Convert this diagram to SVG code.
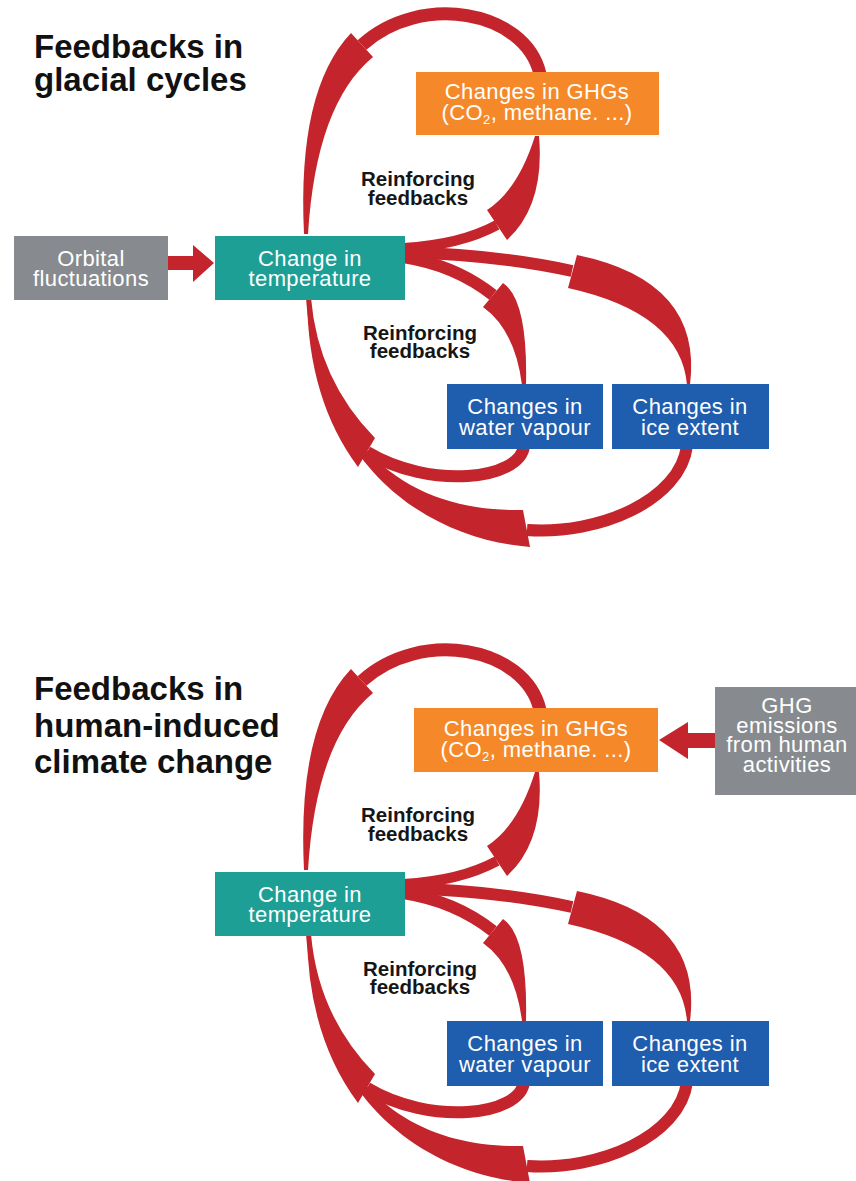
<svg xmlns="http://www.w3.org/2000/svg" width="856" height="1181" viewBox="0 0 856 1181">
  <style>
    .title { font-family: "Liberation Sans", Arial, sans-serif; font-weight: bold; font-size: 33px; fill: #111; }
    .lbl { font-family: "Liberation Sans", Arial, sans-serif; font-weight: bold; font-size: 20.5px; fill: #161616; text-anchor: middle; }
    .bt { font-family: "Liberation Sans", Arial, sans-serif; font-size: 22px; letter-spacing: 0.4px; fill: #ffffff; text-anchor: middle; }
    .sub { font-size: 13px; }
    .grey { fill: #878b8f; }
    .teal { fill: #1d9f96; }
    .orange { fill: #f5892a; }
    .blue { fill: #1f5dae; }
    .shaft { fill: none; stroke: #c4242b; stroke-linecap: butt; }
    .head { fill: #c4242b; stroke: none; }
  </style>
  <defs>
    <!-- the six feedback arrows around "Change in temperature" -->
    <g id="loop">
      <!-- temperature -> GHGs (inner) -->
      <path class="shaft" stroke-width="10" d="M 403 248 Q 460 245 497 225"/>
      <path class="head" d="M 487 210 Q 518 190 535 136 L 539 136 Q 545 205 507 240 Z"/>
      <!-- GHGs -> temperature (outer) -->
      <path class="shaft" stroke-width="13" d="M 540 74 C 525 10 420 -8 362 45"/>
      <path class="head" d="M 351 33 Q 297 90 304 234 L 308 234 Q 316 104 373 57 Z"/>
      <!-- temperature -> ice extent -->
      <path class="shaft" stroke-width="12" d="M 403 252 Q 500 255 572 271"/>
      <path class="head" d="M 577 255 Q 703 281 690 385 L 687 385 Q 681 313 568 288 Z"/>
      <!-- temperature -> water vapour -->
      <path class="shaft" stroke-width="12" d="M 403 257 Q 455 265 493 295"/>
      <path class="head" d="M 503 283 Q 528 300 526 385 L 522 385 Q 515 330 483 307 Z"/>
      <!-- ice extent -> temperature -->
      <path class="shaft" stroke-width="12" d="M 687 446 C 680 500 600 535 527 530"/>
      <path class="head" d="M 530 547 C 440 540 320 480 306 298 L 310 298 C 325 470 430 512 523 510 Z"/>
      <!-- water vapour -> temperature -->
      <path class="shaft" stroke-width="12" d="M 524 446 C 520 480 430 490 367 452"/>
      <path class="head" d="M 375 438 Q 318 380 311 298 L 307 298 Q 308 400 358 467 Z"/>
    </g>
  </defs>

  <rect width="856" height="1181" fill="#ffffff"/>

  <!-- Panel 1: glacial cycles -->
  <g id="title-glacial">
    <text class="title" x="34" y="58">Feedbacks in</text>
    <text class="title" x="34" y="91">glacial cycles</text>
  </g>

  <g id="connectors-glacial">
    <use href="#loop"/>
    <path class="head" d="M 167 256 L 193 256 L 193 245 L 214 263 L 193 282 L 193 270 L 167 270 Z"/>
  </g>

  <g id="orbital">
    <rect class="grey" x="14" y="236" width="154" height="64"/>
    <text class="bt" x="91" y="266">Orbital</text>
    <text class="bt" x="91" y="286">fluctuations</text>
  </g>
  <g id="temperature-1">
    <rect class="teal" x="215" y="236" width="190" height="64"/>
    <text class="bt" x="310" y="266">Change in</text>
    <text class="bt" x="310" y="286">temperature</text>
  </g>
  <g id="ghg-1">
    <rect class="orange" x="416" y="72" width="243" height="63"/>
    <text class="bt" x="537" y="99">Changes in GHGs</text>
    <text class="bt" x="537" y="120">(CO<tspan class="sub" dy="4">2</tspan><tspan dy="-4">, methane. ...)</tspan></text>
  </g>
  <g id="vapour-1">
    <rect class="blue" x="447" y="384" width="156" height="65"/>
    <text class="bt" x="525" y="414">Changes in</text>
    <text class="bt" x="525" y="435">water vapour</text>
  </g>
  <g id="ice-1">
    <rect class="blue" x="612" y="384" width="157" height="65"/>
    <text class="bt" x="690" y="414">Changes in</text>
    <text class="bt" x="690" y="435">ice extent</text>
  </g>
  <g id="labels-1">
    <text class="lbl" x="418" y="186">Reinforcing</text>
    <text class="lbl" x="418" y="205">feedbacks</text>
    <text class="lbl" x="420" y="340">Reinforcing</text>
    <text class="lbl" x="420" y="358">feedbacks</text>
  </g>

  <!-- Panel 2: human-induced climate change -->
  <g id="title-human">
    <text class="title" x="34" y="700">Feedbacks in</text>
    <text class="title" x="34" y="737">human-induced</text>
    <text class="title" x="34" y="773">climate change</text>
  </g>

  <g id="connectors-human">
    <use href="#loop" transform="translate(0,636)"/>
    <path class="head" d="M 716 733 L 688 733 L 688 722 L 659 740 L 688 759 L 688 748 L 716 748 Z"/>
  </g>

  <g id="emissions">
    <rect class="grey" x="715" y="687" width="145" height="108"/>
    <text class="bt" x="787" y="713">GHG</text>
    <text class="bt" x="787" y="733">emissions</text>
    <text class="bt" x="787" y="752">from human</text>
    <text class="bt" x="787" y="772">activities</text>
  </g>
  <g id="temperature-2">
    <rect class="teal" x="215" y="872" width="190" height="64"/>
    <text class="bt" x="310" y="902">Change in</text>
    <text class="bt" x="310" y="922">temperature</text>
  </g>
  <g id="ghg-2">
    <rect class="orange" x="414" y="708" width="244" height="64"/>
    <text class="bt" x="536" y="736">Changes in GHGs</text>
    <text class="bt" x="536" y="757">(CO<tspan class="sub" dy="4">2</tspan><tspan dy="-4">, methane. ...)</tspan></text>
  </g>
  <g id="vapour-2">
    <rect class="blue" x="447" y="1021" width="156" height="65"/>
    <text class="bt" x="525" y="1051">Changes in</text>
    <text class="bt" x="525" y="1072">water vapour</text>
  </g>
  <g id="ice-2">
    <rect class="blue" x="612" y="1021" width="157" height="65"/>
    <text class="bt" x="690" y="1051">Changes in</text>
    <text class="bt" x="690" y="1072">ice extent</text>
  </g>
  <g id="labels-2">
    <text class="lbl" x="418" y="822">Reinforcing</text>
    <text class="lbl" x="418" y="841">feedbacks</text>
    <text class="lbl" x="420" y="976">Reinforcing</text>
    <text class="lbl" x="420" y="994">feedbacks</text>
  </g>
</svg>
